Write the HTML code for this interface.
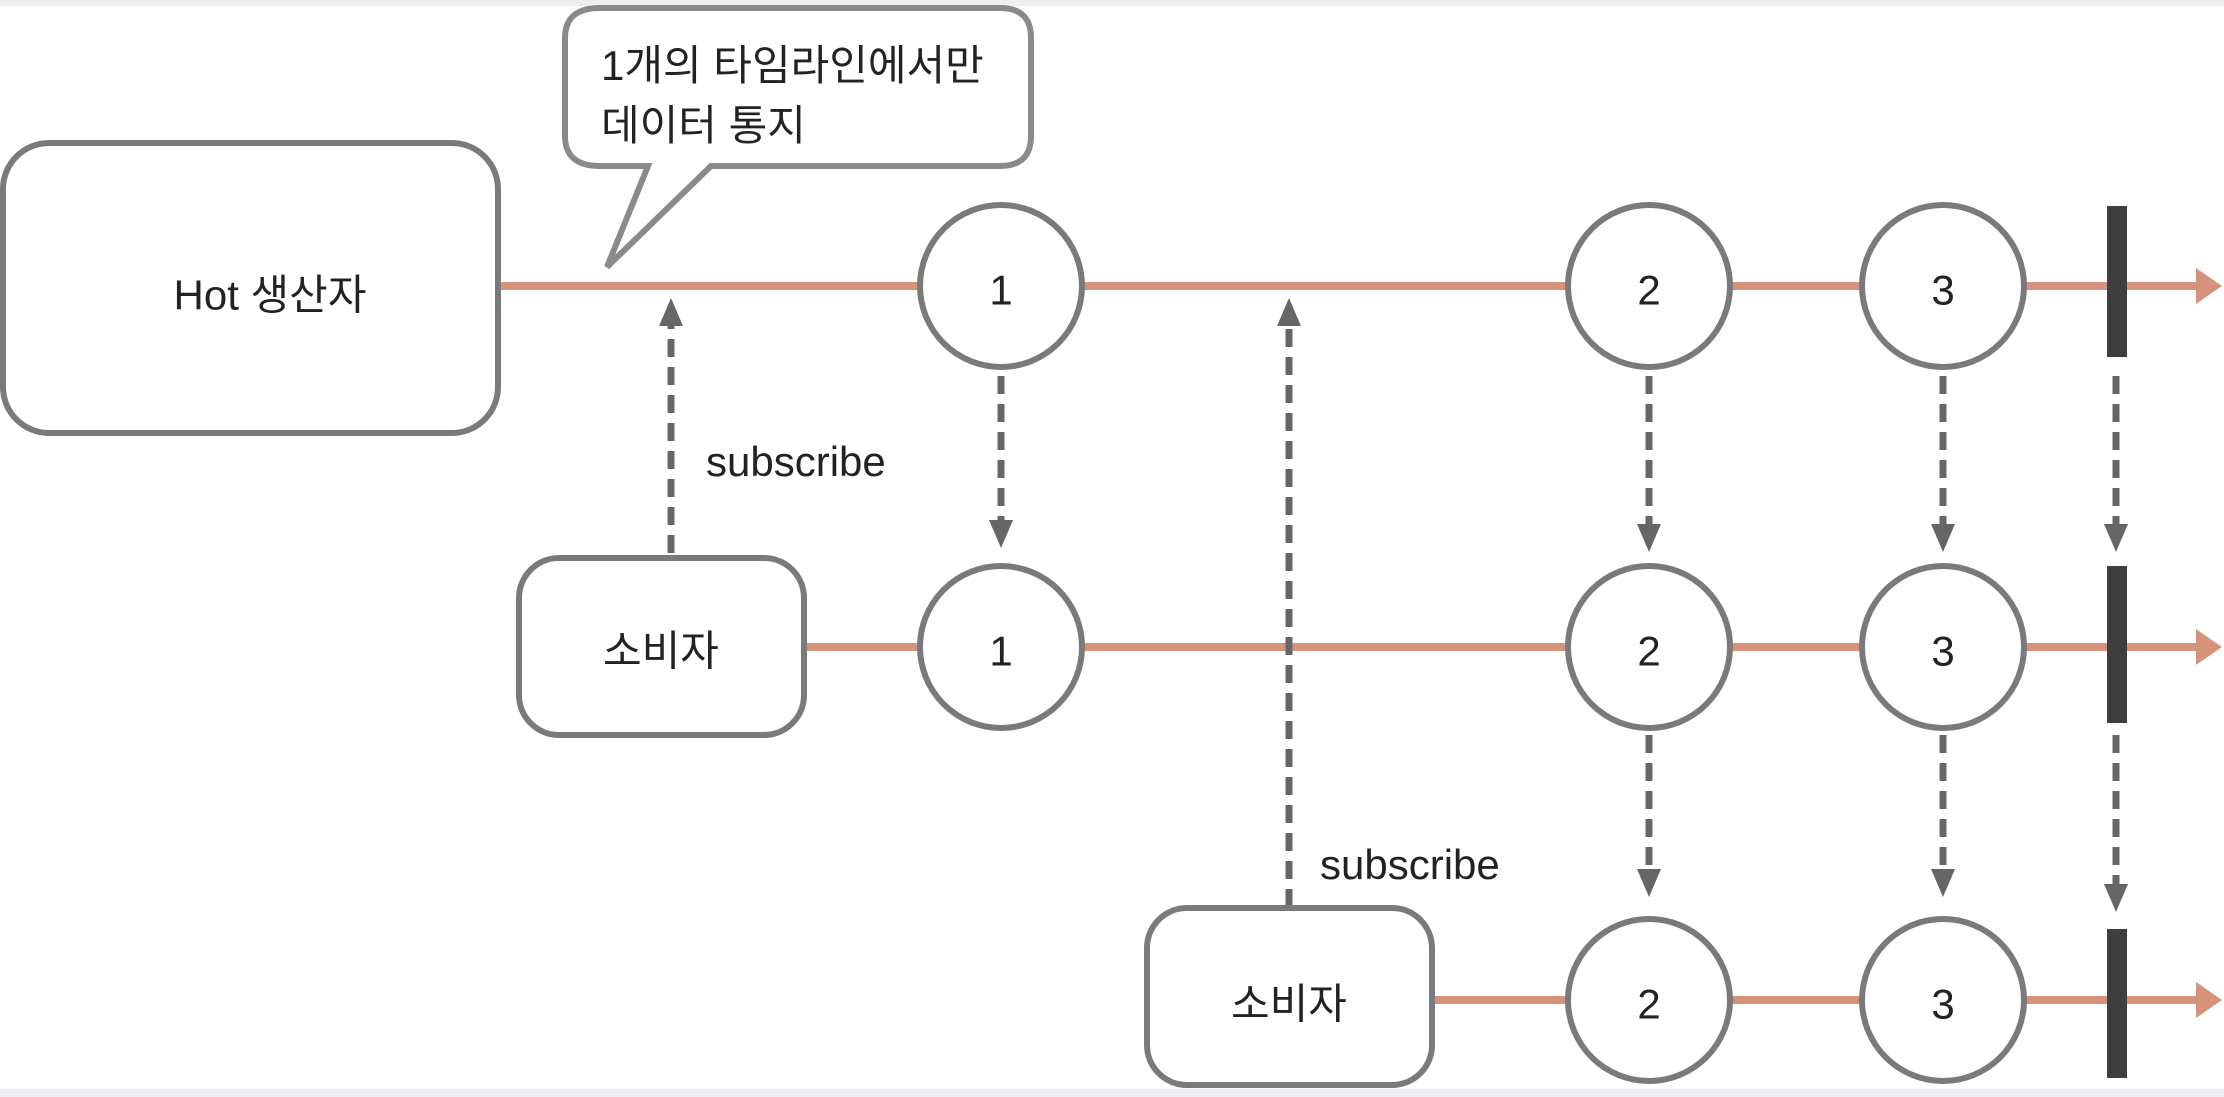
<!DOCTYPE html>
<html><head><meta charset="utf-8"><style>
html,body{margin:0;padding:0;background:#fff;}
svg{display:block;}
text{font-family:"Liberation Sans","Noto Sans CJK KR",sans-serif;fill:#222;}
</style></head><body>
<svg width="2224" height="1097" viewBox="0 0 2224 1097" xmlns="http://www.w3.org/2000/svg">
<rect x="0" y="0" width="2224" height="6" fill="#eceef2"/>
<rect x="0" y="1089" width="2224" height="8" fill="#eceef2"/>

<!-- timelines -->
<g stroke="#d4937a" stroke-width="8" fill="none">
<line x1="499" y1="286" x2="2200" y2="286"/>
<line x1="804" y1="647" x2="2200" y2="647"/>
<line x1="1432" y1="1000" x2="2200" y2="1000"/>
</g>
<g fill="#d4937a">
<polygon points="2196,268 2222,286 2196,304"/>
<polygon points="2196,629 2222,647 2196,665"/>
<polygon points="2196,982 2222,1000 2196,1018"/>
</g>

<!-- dashed connectors -->
<g stroke="#666" stroke-width="7" fill="none" stroke-dasharray="18,10">
<line x1="671" y1="553" x2="671" y2="325"/>
<line x1="1289" y1="907" x2="1289" y2="325"/>
<line x1="1001" y1="376" x2="1001" y2="522"/>
<line x1="1649" y1="376" x2="1649" y2="525"/>
<line x1="1943" y1="376" x2="1943" y2="525"/>
<line x1="2116" y1="376" x2="2116" y2="525"/>
<line x1="1649" y1="735" x2="1649" y2="870"/>
<line x1="1943" y1="735" x2="1943" y2="870"/>
<line x1="2116" y1="735" x2="2116" y2="885"/>
</g>
<g fill="#666">
<polygon points="659,326 683,326 671,298"/>
<polygon points="1277,326 1301,326 1289,298"/>
<polygon points="989,520 1013,520 1001,548"/>
<polygon points="1637,524 1661,524 1649,552"/>
<polygon points="1931,524 1955,524 1943,552"/>
<polygon points="2104,524 2128,524 2116,552"/>
<polygon points="1637,869 1661,869 1649,897"/>
<polygon points="1931,869 1955,869 1943,897"/>
<polygon points="2104,884 2128,884 2116,912"/>
</g>

<!-- boxes -->
<g stroke="#7a7a7a" stroke-width="6" fill="#fff">
<rect x="3" y="143" width="495" height="290" rx="46"/>
<rect x="519" y="558" width="285" height="177" rx="40"/>
<rect x="1147" y="908" width="285" height="177" rx="40"/>
<path d="M600,8 H1000 Q1031,8 1031,38 V136 Q1031,166 1000,166 H711 L607,267 L648,166 H600 Q565,166 565,136 V38 Q565,8 600,8 Z" stroke="#8a8a8a"/>
</g>

<!-- circles -->
<g stroke="#7a7a7a" stroke-width="6" fill="#fff">
<circle cx="1001" cy="286" r="81"/>
<circle cx="1649" cy="286" r="81"/>
<circle cx="1943" cy="286" r="81"/>
<circle cx="1001" cy="647" r="81"/>
<circle cx="1649" cy="647" r="81"/>
<circle cx="1943" cy="647" r="81"/>
<circle cx="1649" cy="1000" r="81"/>
<circle cx="1943" cy="1000" r="81"/>
</g>

<!-- end bars -->
<g fill="#3e3e3e">
<rect x="2107" y="206" width="20" height="151"/>
<rect x="2107" y="566" width="20" height="157"/>
<rect x="2107" y="929" width="20" height="149"/>
</g>

<!-- text -->
<g font-size="42" text-anchor="middle" dominant-baseline="central">
<text x="1001" y="290">1</text>
<text x="1649" y="290">2</text>
<text x="1943" y="290">3</text>
<text x="1001" y="651">1</text>
<text x="1649" y="651">2</text>
<text x="1943" y="651">3</text>
<text x="1649" y="1004">2</text>
<text x="1943" y="1004">3</text>
<text x="270" y="295">Hot 생산자</text>
<text x="661" y="651">소비자</text>
<text x="1289" y="1004">소비자</text>
</g>
<g font-size="42">
<text x="706" y="476">subscribe</text>
<text x="1320" y="879">subscribe</text>
<text x="601" y="80">1개의 타임라인에서만</text>
<text x="601" y="140">데이터 통지</text>
</g>
</svg>
</body></html>
